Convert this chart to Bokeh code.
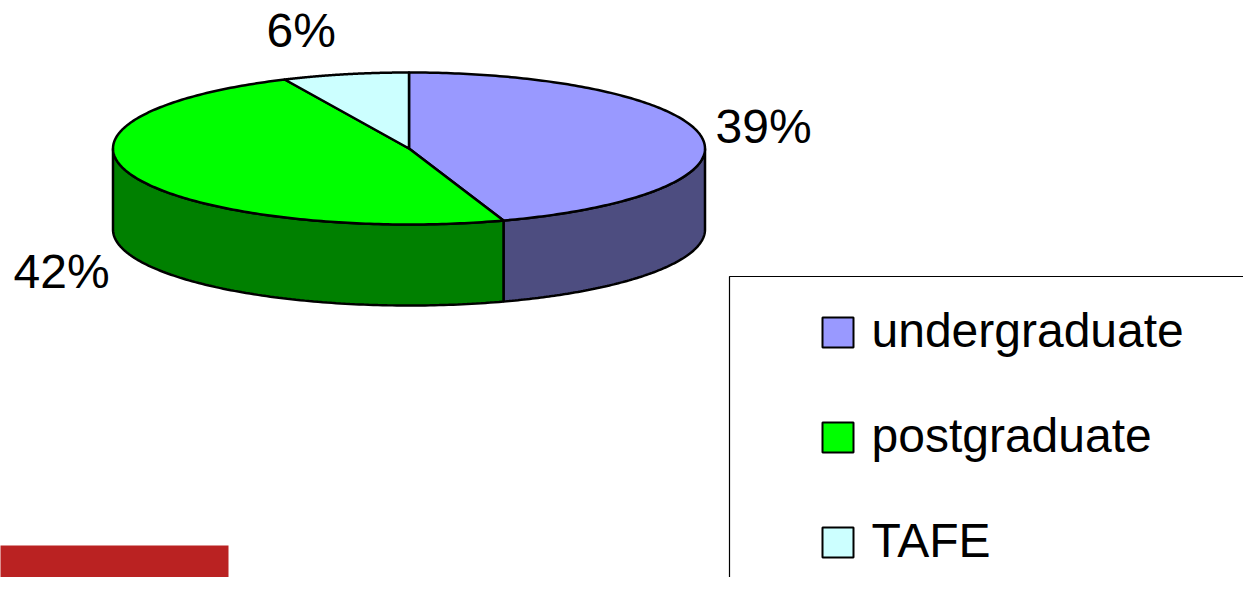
import numpy as np
from bokeh.plotting import figure
from bokeh.models import Range1d
from bokeh.core.properties import value
from bokeh.embed import file_html
from bokeh.resources import INLINE

# ---- data ----
categories = ["undergraduate", "postgraduate", "TAFE"]
values = [39, 42, 6]
pct_labels = ["39%", "42%", "6%"]
top_colors = ["#9999FF", "#00FF00", "#CCFFFF"]
side_colors = ["#4D4D80", "#008000", "#66807F"]

W, H = 1243, 577
TXT = 17  # baseline compensation for svg text placement

p = figure(width=W, height=H, output_backend="svg", toolbar_location=None,
           x_range=Range1d(0, W), y_range=Range1d(H, 0))
p.axis.visible = False
p.grid.visible = False
p.outline_line_color = None
p.min_border = 0
p.background_fill_color = "white"

# pie geometry
cx, cy = 408.5, 148
rx, ry = 296, 76
depth = 81

def pt(theta_deg, dy=0.0):
    t = np.radians(theta_deg)
    return cx + rx * np.sin(t), cy - ry * np.cos(t) + dy

total = float(sum(values))
bounds = np.concatenate([[0.0], np.cumsum(values) / total * 360.0])

# sides (visible front half: 90..270 deg)
side_xs, side_ys, side_fc = [], [], []
for i in range(len(values)):
    a0, a1 = max(bounds[i], 90.0), min(bounds[i + 1], 270.0)
    if a1 <= a0:
        continue
    th = np.linspace(a0, a1, 120)
    xt, yt = pt(th)
    xb, yb = pt(th[::-1], depth)
    side_xs.append(list(xt) + list(xb))
    side_ys.append(list(yt) + list(yb))
    side_fc.append(side_colors[i])
p.patches(side_xs, side_ys, fill_color=side_fc, line_color="black", line_width=2.5)

# top slices
top_xs, top_ys = [], []
for i in range(len(values)):
    th = np.linspace(bounds[i], bounds[i + 1], 200)
    xt, yt = pt(th)
    top_xs.append([cx] + list(xt))
    top_ys.append([cy] + list(yt))
p.patches(top_xs, top_ys, fill_color=top_colors, line_color="black", line_width=2.5,
          line_join="round")

# percentage labels
lab_x = [715, 13, 266]
lab_y = [143 - TXT, 288 - TXT, 47 - TXT]
p.text(lab_x, lab_y, text=pct_labels, text_font=value("Liberation Sans"),
       text_font_size="48px", text_color="black", text_baseline="alphabetic",
       text_align="left")

# legend box
p.quad(left=[729], right=[W + 20], top=[276], bottom=[H + 20],
       fill_color="white", line_color="black", line_width=1.2)
sq_top = [317, 422, 527]
p.quad(left=[822] * 3, right=[853] * 3,
       top=sq_top, bottom=[t + 30 for t in sq_top],
       fill_color=top_colors, line_color="black", line_width=2)
p.text([871] * 3, [t + 30 - TXT for t in sq_top], text=categories,
       text_font=value("Liberation Sans"), text_font_size="48px",
       text_color="black", text_baseline="alphabetic", text_align="left")

# red block bottom-left
p.quad(left=[-10], right=[228], top=[545], bottom=[H + 20],
       fill_color="#BA2222", line_color=None)

open("out.html", "w").write(file_html(p, INLINE))
